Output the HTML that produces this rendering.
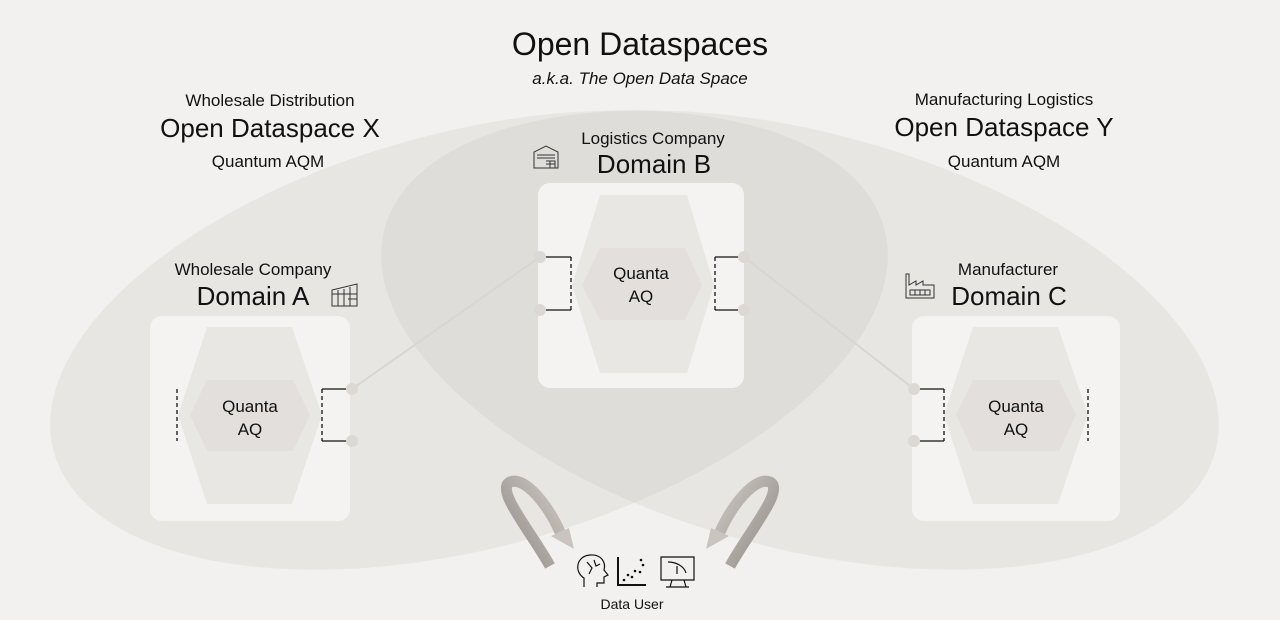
<!DOCTYPE html>
<html><head><meta charset="utf-8"><style>
html,body{margin:0;padding:0;background:#f2f1ef;width:1280px;height:620px;overflow:hidden;}
svg{display:block;font-family:"Liberation Sans","Noto Sans CJK JP",sans-serif;}
</style></head><body>
<svg width="1280" height="620" viewBox="0 0 1280 620" xmlns="http://www.w3.org/2000/svg">
<rect width="1280" height="620" fill="#f2f1ef"/>
<g fill="rgb(180,172,165)" fill-opacity="0.16">
<ellipse cx="469" cy="340" rx="430" ry="208" transform="rotate(-15 469 340)"/>
<ellipse cx="800" cy="340" rx="430" ry="208" transform="rotate(15 800 340)"/>
</g>
<line x1="352" y1="389" x2="540" y2="257" stroke="#d9d6d2" stroke-width="2"/>
<line x1="744" y1="257" x2="914" y2="389" stroke="#d9d6d2" stroke-width="2"/>
<rect x="150" y="316" width="200" height="205" rx="12" fill="#f4f3f2"/>
<rect x="538" y="183" width="206" height="205" rx="12" fill="#f4f3f2"/>
<rect x="912" y="316" width="208" height="205" rx="12" fill="#f4f3f2"/>
<g fill="#e9e7e4">
<polygon points="207,327 292,327 322,415 292,504 207,504 178,415"/>
<polygon points="600,195 687,195 714,285 687,373 600,373 572,285"/>
<polygon points="973,327 1058,327 1088,415 1058,504 973,504 944,415"/>
</g>
<g fill="#e2dfdc">
<polygon points="207,380 293,380 310,415 293,451 207,451 190,415"/>
<polygon points="600,248 685,248 702,285 685,320 600,320 582,285"/>
<polygon points="973,380 1059,380 1076,415 1059,451 973,451 956,415"/>
</g>
<g stroke="#111" stroke-width="1.3" fill="none">
<path d="M352 389 H322 M322 441 H352"/>
<path d="M322 389 V441" stroke-dasharray="4 3"/>
<path d="M177 389 V441" stroke-dasharray="4 3"/>
<path d="M540 257 H571 M571 310 H540"/>
<path d="M571 257 V310" stroke-dasharray="4 3"/>
<path d="M744 257 H715 M715 310 H744"/>
<path d="M715 257 V310" stroke-dasharray="4 3"/>
<path d="M914 389 H944 M944 441 H914"/>
<path d="M944 389 V441" stroke-dasharray="4 3"/>
<path d="M1088 389 V441" stroke-dasharray="4 3"/>
</g>
<g fill="#dcd9d5">
<circle cx="352" cy="389" r="6"/><circle cx="352" cy="441" r="6"/>
<circle cx="540" cy="257" r="6"/><circle cx="540" cy="310" r="6"/>
<circle cx="744" cy="257" r="6"/><circle cx="744" cy="310" r="6"/>
<circle cx="914" cy="389" r="6"/><circle cx="914" cy="441" r="6"/>
</g>
<g fill="#111" text-anchor="middle">
<text x="640" y="55" font-size="32">Open Dataspaces</text>
<text x="640" y="84" font-size="17" font-style="italic">a.k.a. The Open Data Space</text>
<text x="270" y="106" font-size="17">Wholesale Distribution</text>
<text x="270" y="137" font-size="26">Open Dataspace X</text>
<text x="268" y="167" font-size="17">Quantum AQM</text>
<text x="1004" y="105" font-size="17">Manufacturing Logistics</text>
<text x="1004" y="136" font-size="26">Open Dataspace Y</text>
<text x="1004" y="167" font-size="17">Quantum AQM</text>
<text x="653" y="144" font-size="17">Logistics Company</text>
<text x="654" y="173" font-size="26">Domain B</text>
<text x="253" y="275" font-size="17">Wholesale Company</text>
<text x="253" y="305" font-size="26">Domain A</text>
<text x="1008" y="275" font-size="17">Manufacturer</text>
<text x="1009" y="305" font-size="26">Domain C</text>
<text x="250" y="412" font-size="17">Quanta</text>
<text x="250" y="435" font-size="17">AQ</text>
<text x="641" y="279" font-size="17">Quanta</text>
<text x="641" y="302" font-size="17">AQ</text>
<text x="1016" y="412" font-size="17">Quanta</text>
<text x="1016" y="435" font-size="17">AQ</text>
<text x="632" y="609" font-size="14">Data User</text>
</g>
<g stroke="#333" stroke-width="1" fill="none">
<path d="M332 306 V290 L357 284 V306 Z M332 294 H357 M338 290 V306 M344 289 V306 M350 287 V306 M348 299 H357 V306"/>
<path d="M534 168 V152 L546 146 L558 152 V168 Z M537 155 H555 M537 158 H555 M546 161 H555 V168 M550 161 V168 M546 164 H555"/>
<path d="M906 298 V274 H909 V285 L916 281 V285 L923 281 V285 L934 285 V298 Z M910 290 H930 V295 H910 Z M915 290 V295 M920 290 V295 M925 290 V295"/>
</g>
<defs>
<linearGradient id="gl" x1="0" y1="1" x2="1" y2="0"><stop offset="0" stop-color="#8f8a84"/><stop offset="1" stop-color="#cdc8c2"/></linearGradient>
<linearGradient id="gr" x1="1" y1="1" x2="0" y2="0"><stop offset="0" stop-color="#8f8a84"/><stop offset="1" stop-color="#cdc8c2"/></linearGradient>
</defs>
<path d="M550 566 C530 530 495 490 510 482 C525 476 548 505 560 532" stroke="url(#gl)" stroke-width="11" fill="none"/>
<polygon points="551,536 569,528 574,549" fill="#c9c4be"/>
<path d="M730 566 C750 530 785 490 770 482 C755 476 732 505 720 532" stroke="url(#gr)" stroke-width="11" fill="none"/>
<polygon points="729,536 711,528 706,549" fill="#c9c4be"/>
<g stroke="#111" stroke-width="1.2" fill="none">
<path d="M584 587 V578 C574 572 576 556 590 555 C602 554 606 563 604 570 L608 575 L604 577 V583 H597 V587"/>
<path d="M587 562 L592 568 L589 574 M594 560 L596 566 L600 564"/>
<path d="M618 557 V585 H646" stroke-width="2"/>
<path d="M661 557 H694 V580 H661 Z M672 580 L670 587 M684 580 L686 587 M666 587 H689"/>
<path d="M668 562 C676 562 684 566 686 573 M677 566 V574"/>
</g>
<g fill="#111">
<circle cx="624" cy="580" r="1.3"/><circle cx="628" cy="575" r="1.3"/><circle cx="632" cy="577" r="1.3"/>
<circle cx="635" cy="571" r="1.3"/><circle cx="640" cy="572" r="1.3"/><circle cx="643" cy="565" r="1.3"/><circle cx="641" cy="560" r="1.3"/>
</g>
</svg>
</body></html>
